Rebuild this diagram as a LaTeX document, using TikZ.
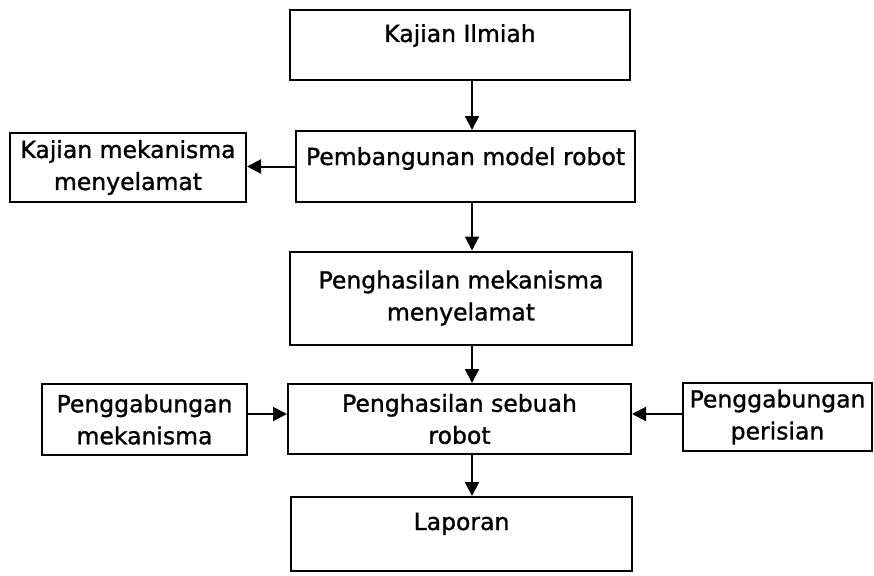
\documentclass[tikz,border=0pt]{standalone}
\usepackage{fontspec}
\setmainfont{DejaVu Sans}[BoldFont={DejaVu Sans}, BoldFeatures={FakeBold=1.2}]
\usetikzlibrary{arrows.meta}
\tikzset{
  box/.style={draw=black, line width=2pt, rectangle, inner xsep=0pt, inner ysep=0pt,
    align=center, font=\fontsize{23.5}{32}\selectfont\bfseries, fill=white},
  arr/.style={line width=2pt, -{Triangle[length=14pt,width=14pt]}},
}
\begin{document}
\begin{tikzpicture}[x=1pt,y=-1pt]
\useasboundingbox[fill=white] (0,0) rectangle (874,575);
\node[box, minimum width=340pt, text height=32pt, text depth=38pt] (b1) at (460,45) {Kajian Ilmiah};
\node[box, minimum width=339pt, text height=34pt, text depth=37pt] (b2) at (465.5,166.5) {Pembangunan model robot};
\node[box, minimum width=236pt, minimum height=69pt] (b3) at (128,167.5) {Kajian mekanisma\\menyelamat};
\node[box, minimum width=342pt, minimum height=93pt] (b4) at (461,298) {Penghasilan mekanisma\\menyelamat};
\node[box, minimum width=205pt, minimum height=71pt] (b5) at (144.5,419.5) {Penggabungan\\mekanisma};
\node[box, minimum width=343pt, minimum height=70pt] (b6) at (459.5,419) {Penghasilan sebuah\\robot};
\node[box, minimum width=189pt, minimum height=68pt] (b7) at (777.5,417) {Penggabungan\\perisian};
\node[box, minimum width=341pt, text height=33pt, text depth=41pt] (b8) at (461.5,534) {Laporan};
\coordinate (ax) at (472,0);
\coordinate (ay) at (0,414);
\draw[arr] (b1.south -| ax) -- (b2.north -| ax);
\draw[arr] (b2.south -| ax) -- (b4.north -| ax);
\draw[arr] (b4.south -| ax) -- (b6.north -| ax);
\draw[arr] (b6.south -| ax) -- (b8.north -| ax);
\draw[arr] (b2.west) -- (b2.west -| b3.east);
\draw[arr] (b5.east |- ay) -- (b6.west |- ay);
\draw[arr] (b7.west |- ay) -- (b6.east |- ay);
\end{tikzpicture}
\end{document}
